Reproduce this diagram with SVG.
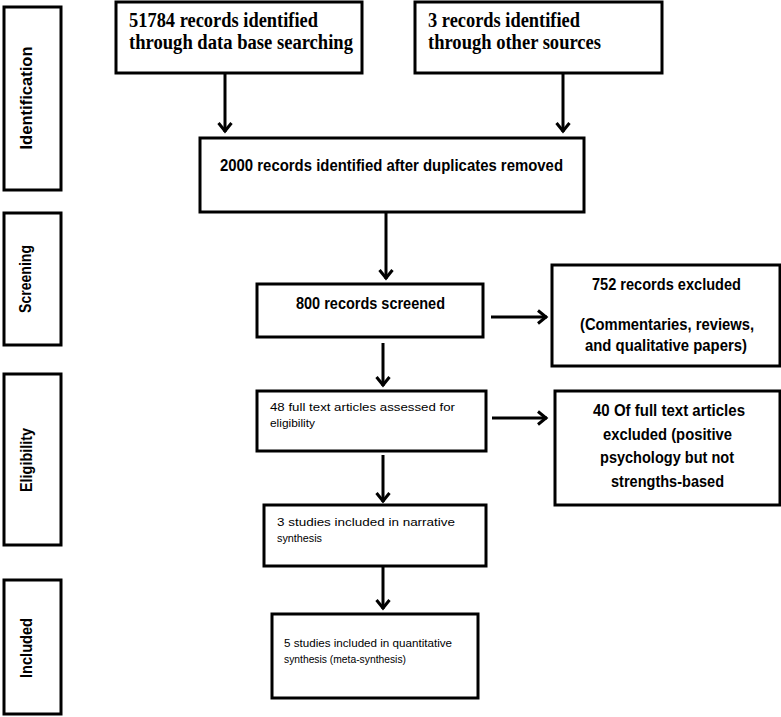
<svg xmlns="http://www.w3.org/2000/svg" width="781" height="717" viewBox="0 0 781 717">
<style>
.box{fill:#fff;stroke:#000;stroke-width:3}
.serif{font-family:"Liberation Serif","Times New Roman",serif;font-weight:bold;font-size:20px;fill:#000}
.sans{font-family:"Liberation Sans",Arial,sans-serif;font-weight:bold;font-size:16.5px;fill:#000}
.small{font-family:"Liberation Sans",Arial,sans-serif;font-size:11px;fill:#000}
.side{font-family:"Liberation Sans",Arial,sans-serif;font-weight:bold;font-size:16px;fill:#000}
.conn line{stroke:#000;stroke-width:3}
</style>
<defs>
<marker id="ah" markerUnits="userSpaceOnUse" markerWidth="16" markerHeight="18" refX="11" refY="8" orient="auto">
<path d="M2,1.5 L10,8 L2,14.5" fill="none" stroke="#000" stroke-width="3"/>
</marker>
</defs>
<rect width="781" height="717" fill="#fff"/>

<g id="stage-identification">
<rect class="box" x="4" y="7" width="57" height="183"/>
<text class="side" transform="translate(32,98) rotate(-90)" text-anchor="middle" textLength="103" lengthAdjust="spacingAndGlyphs">Identification</text>
</g>
<g id="stage-screening">
<rect class="box" x="4" y="213" width="57" height="132"/>
<text class="side" transform="translate(31,279) rotate(-90)" text-anchor="middle" textLength="68" lengthAdjust="spacingAndGlyphs">Screening</text>
</g>
<g id="stage-eligibility">
<rect class="box" x="4" y="374" width="57" height="171"/>
<text class="side" transform="translate(32,460) rotate(-90)" text-anchor="middle" textLength="64" lengthAdjust="spacingAndGlyphs">Eligibility</text>
</g>
<g id="stage-included">
<rect class="box" x="4" y="580" width="57" height="134"/>
<text class="side" transform="translate(32,648) rotate(-90)" text-anchor="middle" textLength="60" lengthAdjust="spacingAndGlyphs">Included</text>
</g>

<g id="n-database">
<rect class="box" x="116" y="2" width="246" height="71"/>
<text class="serif" x="129" y="27" textLength="189" lengthAdjust="spacingAndGlyphs">51784 records identified</text>
<text class="serif" x="129" y="49" textLength="224" lengthAdjust="spacingAndGlyphs">through data base searching</text>
</g>
<g id="n-other">
<rect class="box" x="415" y="2" width="247" height="71"/>
<text class="serif" x="428" y="27" textLength="152" lengthAdjust="spacingAndGlyphs">3 records identified</text>
<text class="serif" x="428" y="49" textLength="173" lengthAdjust="spacingAndGlyphs">through other sources</text>
</g>
<g id="n-dedup">
<rect class="box" x="200" y="138" width="384" height="74"/>
<text class="sans" x="391.5" y="171" text-anchor="middle" textLength="343" lengthAdjust="spacingAndGlyphs">2000 records identified after duplicates removed</text>
</g>
<g id="n-screened">
<rect class="box" x="257" y="284" width="226" height="53"/>
<text class="sans" x="370.5" y="309" text-anchor="middle" textLength="149" lengthAdjust="spacingAndGlyphs">800 records screened</text>
</g>
<g id="n-excluded1">
<rect class="box" x="552" y="265" width="228" height="101"/>
<text class="sans" x="666.5" y="290" text-anchor="middle" textLength="149" lengthAdjust="spacingAndGlyphs">752 records excluded</text>
<text class="sans" x="667" y="330" text-anchor="middle" textLength="174" lengthAdjust="spacingAndGlyphs">(Commentaries, reviews,</text>
<text class="sans" x="666" y="351" text-anchor="middle" textLength="162" lengthAdjust="spacingAndGlyphs">and qualitative papers)</text>
</g>
<g id="n-fulltext">
<rect class="box" x="257" y="391" width="229" height="60"/>
<text class="small" x="270" y="411" textLength="185" lengthAdjust="spacingAndGlyphs">48 full text articles assessed for</text>
<text class="small" x="270" y="427" textLength="45" lengthAdjust="spacingAndGlyphs">eligibility</text>
</g>
<g id="n-excluded2">
<rect class="box" x="555" y="391" width="225" height="114"/>
<text class="sans" x="669" y="416" text-anchor="middle" textLength="152" lengthAdjust="spacingAndGlyphs">40 Of full text articles</text>
<text class="sans" x="667.5" y="440" text-anchor="middle" textLength="129" lengthAdjust="spacingAndGlyphs">excluded (positive</text>
<text class="sans" x="667" y="463" text-anchor="middle" textLength="134" lengthAdjust="spacingAndGlyphs">psychology but not</text>
<text class="sans" x="667.5" y="487" text-anchor="middle" textLength="113" lengthAdjust="spacingAndGlyphs">strengths-based</text>
</g>
<g id="n-narrative">
<rect class="box" x="264" y="505" width="222" height="61"/>
<text class="small" x="277" y="526" textLength="178" lengthAdjust="spacingAndGlyphs">3 studies included in narrative</text>
<text class="small" x="277" y="542" textLength="45" lengthAdjust="spacingAndGlyphs">synthesis</text>
</g>
<g id="n-quant">
<rect class="box" x="272" y="614" width="206" height="84"/>
<text class="small" x="284" y="647" textLength="168" lengthAdjust="spacingAndGlyphs">5 studies included in quantitative</text>
<text class="small" x="284" y="663" textLength="122" lengthAdjust="spacingAndGlyphs">synthesis (meta-synthesis)</text>
</g>

<g id="connectors" class="conn">
<line x1="225" y1="73" x2="225" y2="132" marker-end="url(#ah)"/>
<line x1="563" y1="73" x2="563" y2="132" marker-end="url(#ah)"/>
<line x1="386" y1="212" x2="386" y2="279" marker-end="url(#ah)"/>
<line x1="491" y1="317" x2="547" y2="317" marker-end="url(#ah)"/>
<line x1="383" y1="343" x2="383" y2="386" marker-end="url(#ah)"/>
<line x1="492" y1="418" x2="547" y2="418" marker-end="url(#ah)"/>
<line x1="383" y1="455" x2="383" y2="502" marker-end="url(#ah)"/>
<line x1="383" y1="566" x2="383" y2="609" marker-end="url(#ah)"/>
</g>
</svg>
